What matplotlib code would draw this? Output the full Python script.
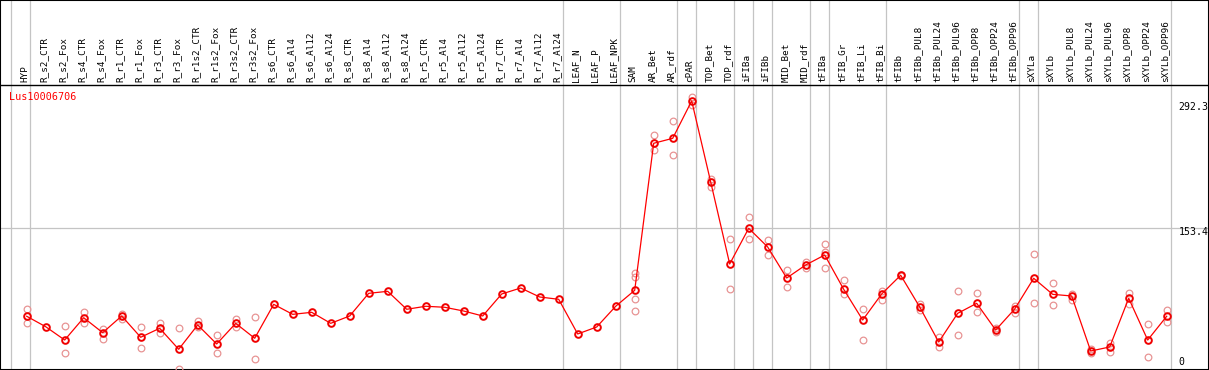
import numpy as np
import matplotlib
matplotlib.use("Agg")
import matplotlib.pyplot as plt

plt.rcParams['font.family'] = ['DejaVu Sans Mono', 'DejaVu Sans']

title = "Lus10006706"

samples = ["HYP", "R_s2_CTR", "R_s2_Fox", "R_s4_CTR", "R_s4_Fox", "R_r1_CTR", "R_r1_Fox",
           "R_r3_CTR", "R_r3_Fox", "R_r1s2_CTR", "R_r1s2_Fox", "R_r3s2_CTR", "R_r3s2_Fox",
           "R_s6_CTR", "R_s6_Al4", "R_s6_Al12", "R_s6_Al24", "R_s8_CTR", "R_s8_Al4",
           "R_s8_Al12", "R_s8_Al24", "R_r5_CTR", "R_r5_Al4", "R_r5_Al12", "R_r5_Al24",
           "R_r7_CTR", "R_r7_Al4", "R_r7_Al12", "R_r7_Al24", "LEAF_N", "LEAF_P", "LEAF_NPK",
           "SAM", "AR_Bet", "AR_rdf", "cPAR", "TOP_Bet", "TOP_rdf", "iFIBa", "iFIBb",
           "MID_Bet", "MID_rdf", "tFIBa", "tFIB_Gr", "tFIB_Li", "tFIB_Bi", "tFIBb",
           "tFIBb_PUL8", "tFIBb_PUL24", "tFIBb_PUL96", "tFIBb_OPP8", "tFIBb_OPP24",
           "tFIBb_OPP96", "sXYLa", "sXYLb", "sXYLb_PUL8", "sXYLb_PUL24", "sXYLb_PUL96",
           "sXYLb_OPP8", "sXYLb_OPP24", "sXYLb_OPP96"]

# group separators: a grey line is drawn after these sample indices
group_ends = [-1, 0, 28, 31, 34, 35, 37, 38, 39, 41, 42, 45, 52, 53, 60]

means = [57.5, 46.1, 31.6, 55.9, 39.6, 57.8, 34.6, 44.4, 21.5, 48.0, 27.3, 49.8, 33.5,
         70.5, 59.6, 61.8, 49.8, 57.8, 82.5, 84.7, 65.1, 68.4, 67.3, 63.2, 57.8,
         81.8, 88.3, 78.5, 76.0, 38.2, 45.8, 68.4,
         85.8, 246.1, 251.5, 292.3, 203.9, 114.5, 153.4, 133.0, 99.2, 113.4, 124.3,
         86.9, 53.4, 81.8, 102.2, 67.6, 29.4, 60.7, 71.6, 42.5, 65.4,
         98.9, 81.4, 79.6, 19.6, 24.0, 77.1, 31.6, 57.5]

nan = np.nan
rep_a = [65.1, nan, 46.9, 62.1, 43.9, 59.6, 46.1, 49.8, 44.4, 52.3, 37.1, 54.8, 57.0,
         nan, nan, nan, nan, nan, nan, nan, nan, nan, nan, nan, nan,
         nan, nan, nan, nan, nan, nan, nan,
         104.3, 254.8, 270.4, 296.5, 206.8, 141.7, 165.4, 140.6, 107.9, 117.0, 136.3,
         97.0, 65.1, 85.4, 103.0, 70.9, 35.2, 85.0, 82.9, 44.7, 68.7,
         125.4, 93.8, 81.8, 21.3, 28.7, 83.2, 48.7, 64.3]
rep_b = [50.5, nan, 17.1, 50.5, 32.7, 54.5, 23.2, 38.9, 0.0, 45.8, 17.1, 46.1, 10.6,
         nan, nan, nan, nan, nan, nan, nan, nan, nan, nan, nan, nan,
         nan, nan, nan, nan, nan, nan, nan,
         63.6, 238.5, 233.0, 288.1, 198.8, 86.9, 141.7, 124.0, 89.4, 110.4, 110.4,
         81.4, 31.6, 75.2, 101.0, 64.3, 23.7, 37.1, 62.1, 40.3, 61.4,
         71.6, 69.5, 75.6, 17.8, 18.9, 71.2, 12.8, 51.2]
rep_c = [nan] * 32 + [100.3] + [nan] * 9 + [127.9] + [nan] * 18
rep_d = [nan] * 32 + [76.0] + [nan] * 28

# ---- geometry -------------------------------------------------------------
W, H = 1209, 370
x_px0, x_step = 26.7, 19.0          # pixel of first sample, pixels per sample
xmin = -x_px0 / x_step
xmax = xmin + W / x_step
px_per_unit = 0.9172
ymin = -(H - 369) / px_per_unit
ymax = ymin + H / px_per_unit


def py(pix_y):
    """pixel row (from top) -> data value"""
    return (369 - pix_y) / px_per_unit


def px(pix_x):
    return xmin + pix_x / x_step


fig = plt.figure(figsize=(W / 100, H / 100), dpi=100)
ax = fig.add_axes([0, 0, 1, 1])
ax.set_xlim(xmin, xmax)
ax.set_ylim(ymin, ymax)
ax.set_xticks([])
ax.set_yticks([])
for s in ax.spines.values():
    s.set_color('black')
    s.set_linewidth(1.5)

grey = '#c4c4c4'
for k in group_ends:
    ax.axvline(k + 0.2, color=grey, lw=0.9, zorder=1)
ax.axhline(153.4, color=grey, lw=0.9, zorder=1)
ax.axhline(py(85), color='black', lw=1.0, zorder=2)

x = np.arange(len(samples))
rep_col = '#e89494'
for reps in (rep_a, rep_b, rep_c, rep_d):
    ax.plot(x, reps, linestyle='none', marker='o', ms=4.8, mfc='none',
            mec=rep_col, mew=0.9, zorder=3)

ax.plot(x, means, color='red', lw=0.9, zorder=4)
ax.plot(x, means, linestyle='none', marker='o', ms=4.8, mfc='none',
        mec='#f00000', mew=1.4, zorder=5)

for i, name in enumerate(samples):
    ax.text(i - 0.09, py(82), name, rotation=90, ha='center', va='bottom',
            fontsize=6.7, color='black', zorder=6)

ax.text(px(9.0), py(97.3), title, color='red', fontsize=7.3, ha='left', va='center')

ymax_val = max(means)
ax.text(px(1178.5), py(106.7), f"{ymax_val:.1f}", fontsize=7.1, ha='left', va='center')
ax.text(px(1178.5), py(232), "153.4", fontsize=7.1, ha='left', va='center')
ax.text(px(1178.5), py(361.7), "0", fontsize=7.1, ha='left', va='center')

fig.savefig("out.png", dpi=100)
